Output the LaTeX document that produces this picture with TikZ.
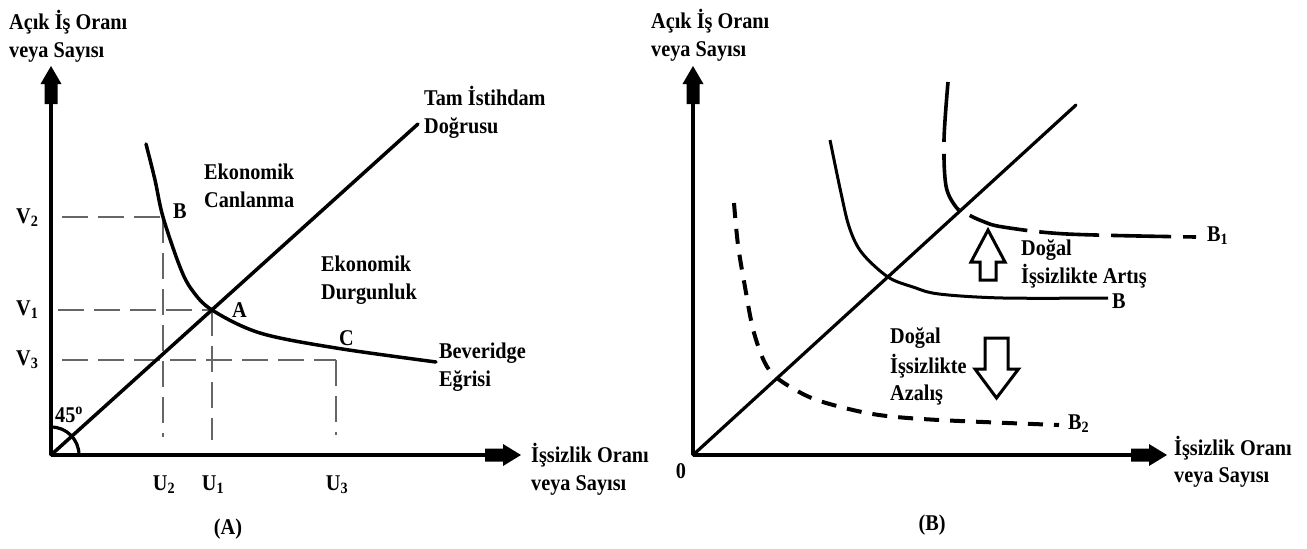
\documentclass[tikz,border=0pt]{standalone}
\usepackage{fontspec}
\setmainfont{Liberation Serif}[FakeStretch=0.9]
\begin{document}
\begin{tikzpicture}[x=1pt,y=-1pt,
  lbl/.style={font=\fontsize{22.5}{27}\selectfont\bfseries, inner sep=0pt, anchor=base west},
  lblc/.style={lbl, anchor=base},
  axisline/.style={line width=3.5pt},
  curve/.style={line width=3.5pt, line cap=round},
  guide/.style={line width=1.8pt, draw=black!60, dash pattern=on 26pt off 10pt},
  longdash/.style={line width=3.6pt, dash pattern=on 60pt off 12pt},
  shortdash/.style={line width=4pt, dash pattern=on 15pt off 11pt},
  bigarrow/.style={draw, line width=3pt, fill=white, line join=miter},
  yhead/.pic={\fill (0,0) -- (10.5,18) -- (6.5,18) -- (6.5,38) -- (-6.5,38) -- (-6.5,18) -- (-10.5,18) -- cycle;},
  xhead/.pic={\fill (0,0) -- (-18,-11) -- (-18,-6.5) -- (-36,-6.5) -- (-36,6.5) -- (-18,6.5) -- (-18,11) -- cycle;}
]
\useasboundingbox (0,0) rectangle (1307,549);

% ---------- left panel: Beveridge curve ----------
\coordinate (lo) at (51,455);
\coordinate (lytop) at (51,66);
\coordinate (lxend) at (521,455);
\draw[axisline] (lo) -- (51,90);
\draw[axisline] (lo) -- (500,455);
\pic at (lytop) {yhead};
\pic at (lxend) {xhead};

% 45 degree arc at the origin
\coordinate (arcTop) at (51,427);
\coordinate (arcRight) at (79,455);
\draw[line width=3.2pt] (arcTop) .. controls (66.5,427) and (79,439.5) .. (arcRight);

% guide lines
\coordinate (ptB) at (163,217);
\coordinate (ptA) at (212,310);
\coordinate (ptC) at (336,360);
\draw[guide] (62,217) -- (ptB);
\draw[guide] (ptB) -- (163,437);
\draw[guide] (58,310) -- (ptA);
\draw[guide] (ptA) -- (212,440);
\draw[guide] (62,360) -- (ptC);
\draw[guide] (ptC) -- (336,435);

% full employment line
\coordinate (lfull) at (418,124);
\draw[curve] (lo) -- (lfull);

% Beveridge curve
\draw[curve] plot[smooth, tension=0.55] coordinates {(146,144) (155,180) (163,217) (180,267) (192,290) (212,310) (260,333) (336,348) (436,362)};

% labels
\node[lbl] (ly1) at (9,29) {Açık İş Oranı};
\node[lbl] (ly2) at (9,57) {veya Sayısı};
\node[lbl] (lt1) at (424,105) {Tam İstihdam};
\node[lbl] (lt2) at (424,133) {Doğrusu};
\node[lbl] (le1) at (204,179) {Ekonomik};
\node[lbl] (le2) at (204,207) {Canlanma};
\node[lbl] (ld1) at (321,271) {Ekonomik};
\node[lbl] (ld2) at (321,299) {Durgunluk};
\node[lbl] (lb1) at (439,358) {Beveridge};
\node[lbl] (lb2) at (439,386) {Eğrisi};
\node[lbl] (lB) at (173,218) {B};
\node[lbl] (lA) at (232,317) {A};
\node[lbl] (lC) at (339,345) {C};
\node[lbl] (lv2) at (16,223) {V\textsubscript{2}};
\node[lbl] (lv1) at (16,315) {V\textsubscript{1}};
\node[lbl] (lv3) at (16,365) {V\textsubscript{3}};
\node[lblc] (lu2) at (164,490) {U\textsubscript{2}};
\node[lblc] (lu1) at (213,490) {U\textsubscript{1}};
\node[lblc] (lu3) at (337,490) {U\textsubscript{3}};
\node[lbl] (lx1) at (531,462) {İşsizlik Oranı};
\node[lbl] (lx2) at (531,490) {veya Sayısı};
\node[lbl] (l45) at (55,422) {45\textsuperscript{o}};
\node[lblc] (lcap) at (228,534) {(A)};

% ---------- right panel: shifts of the curve ----------
\coordinate (ro) at (693,455);
\coordinate (rytop) at (693,66);
\coordinate (rxend) at (1167,455);
\draw[axisline] (ro) -- (693,90);
\draw[axisline] (ro) -- (1146,455);
\pic at (rytop) {yhead};
\pic at (rxend) {xhead};

\coordinate (rfull) at (1076,105);
\draw[line width=3.2pt, line cap=round] (ro) -- (rfull);

% original curve
\draw[line width=3pt] plot[smooth, tension=0.55] coordinates {(830,140) (841,193) (849.5,228) (862,253) (888,277) (913,287) (939,294) (1003,298) (1108,298)};

% shifted outwards
\draw[longdash] plot[smooth, tension=0.55] coordinates {(948,82) (944,140) (946,186) (956,207) (965,213) (982,221) (1003,227) (1067,234) (1196,237)};

% shifted inwards
\draw[shortdash] plot[smooth, tension=0.55] coordinates {(734,203) (738,245) (745,287) (753,329) (764,361) (777,378) (807,396) (837,406) (879,415) (939,420) (1059,425)};

% block arrows
\draw[bigarrow] (988,230) -- (1005,262) -- (996,262) -- (996,280) -- (980,280) -- (980,262) -- (971,262) -- cycle;
\draw[bigarrow] (985,338) -- (1008,338) -- (1008,369) -- (1018.5,369) -- (996.5,398) -- (975,369) -- (985,369) -- cycle;

% labels
\node[lbl] (ry1) at (651,28) {Açık İş Oranı};
\node[lbl] (ry2) at (651,56) {veya Sayısı};
\node[lbl] (rup1) at (1021,255) {Doğal};
\node[lbl] (rup2) at (1021,283) {İşsizlikte Artış};
\node[lbl] (rB) at (1112,308) {B};
\node[lbl] (rB1) at (1207,241) {B\textsubscript{1}};
\node[lbl] (rB2) at (1068,429) {B\textsubscript{2}};
\node[lbl] (rdn1) at (890,343) {Doğal};
\node[lbl] (rdn2) at (890,373) {İşsizlikte};
\node[lbl] (rdn3) at (890,400) {Azalış};
\node[lblc] (r0) at (681,478) {0};
\node[lbl] (rx1) at (1174,455) {İşsizlik Oranı};
\node[lbl] (rx2) at (1174,482) {veya Sayısı};
\node[lblc] (rcap) at (932,530) {(B)};
\end{tikzpicture}
\end{document}
